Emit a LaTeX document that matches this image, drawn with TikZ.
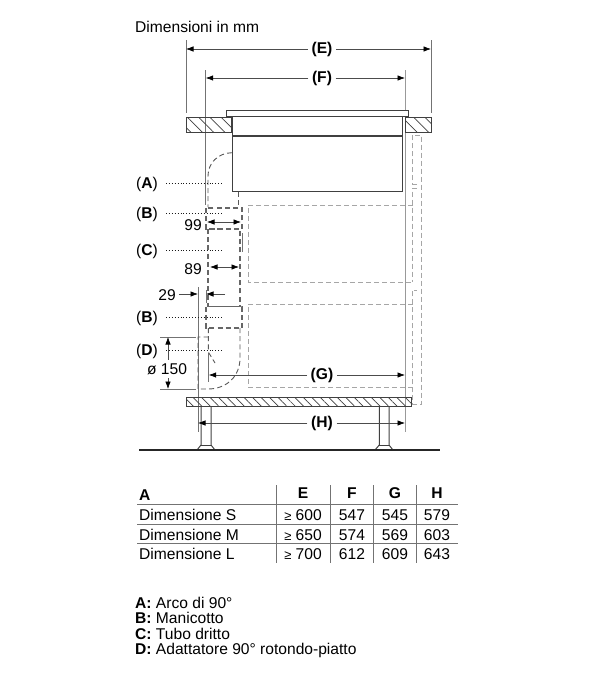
\documentclass[tikz,border=0pt]{standalone}
\usepackage{fontspec}
\setmainfont{Liberation Sans}
\usetikzlibrary{arrows.meta,patterns.meta}
\newcommand*{\normtxt}{\fontsize{15.6}{18}\selectfont}
\newcommand*{\hatchbox}[2]{\draw[body,pattern color=black!75,pattern={Lines[angle=-45,distance=#2,line width=.7pt]}] #1;}
\tikzset{
	lbl/.style={inner sep=0pt,font=\normtxt},
	dimlbl/.style={inner sep=3.5pt,font=\normtxt},
	dimline/.style={draw=black!70,line width=.7pt,-{Latex[length=7.5pt,width=5.5pt,black]}},
	dblline/.style={draw=black!70,line width=.7pt,{Latex[length=7.5pt,width=5.5pt,black]}-{Latex[length=7.5pt,width=5.5pt,black]}},
	dimext/.style={draw=black!55,line width=.7pt},
	leader/.style={draw=black!90,line width=1pt,dash pattern=on 1pt off 1.9pt},
	body/.style={draw=black!75,line width=1pt},
	duct/.style={draw=black!60,line width=1.3pt,dash pattern=on 5pt off 3.2pt},
	elbow/.style={draw=black!65,line width=.9pt,dash pattern=on 5pt off 3.2pt},
	cabinet/.style={draw=black!35,line width=.9pt,dash pattern=on 5pt off 3pt},
	tabrule/.style={draw=black!55,line width=.9pt},
}
\begin{document}
\begin{tikzpicture}[x=1pt,y=-1pt]
	\useasboundingbox (0,0) rectangle (600,688);
	\node[lbl,anchor=west] (title) at (135,27) {Dimensioni in mm};
	% cabinets behind the hob
	\draw[cabinet] (413,205) -- (248.3,205) -- (248.3,282.3) -- (413,282.3);
	\draw[cabinet] (413,304) -- (248.3,304) -- (248.3,387.7) -- (413,387.7);
	\draw[cabinet] (417,184) -- (412.7,184) -- (412.7,135) -- (421.7,135) -- (421.7,404) -- (412.7,404) -- (412.7,290) -- (417,290);
	\draw[cabinet] (417,188) -- (412.7,188) -- (412.7,282.3);
	% extension lines
	\draw[dimext] (186,40) -- (186,113);
	\draw[dimext] (431,40) -- (431,113);
	\draw[dimext] (205.7,70) -- (205.7,205);
	\draw[draw=black!40,line width=1pt] (405,70) -- (405,432);
	\draw[dimext] (198,287) -- (198,432);
	\draw[dimext] (206,290) -- (206,303);
	\draw[dimext] (208.7,353) -- (208.7,382);
	\draw[dimext] (242,233) -- (242,252);
	\draw[dimext] (160,337) -- (196,337);
	\draw[dimext] (160,389) -- (196,389);
	% hob and worktop
	\hatchbox{(186,117) rectangle (231,132)}{8pt}
	\hatchbox{(405,117) rectangle (431,132)}{8pt}
	\draw[body,fill=white] (226,110) rectangle (408.7,116);
	\draw[body] (232.3,116) rectangle (402.7,191.7);
	\draw[body,line width=1.6pt] (232.3,135.7) -- (402.7,135.7);
	% ducting
	\draw[elbow] (232,152.7) .. controls (218,153) and (208,163) .. (208,176) -- (208,207);
	\draw[elbow] (238,192) -- (238,207);
	\draw[duct] (206,208) rectangle (242,229);
	\draw[duct] (208,229) rectangle (240,306.7);
	\draw[duct] (206,306.7) rectangle (242,328);
	\draw[elbow] (240,328) -- (240,358) .. controls (240,377) and (226,389) .. (208,389) -- (198,389) -- (198,337) -- (208,337);
	\draw[elbow] (208.3,328) -- (208.3,352) -- (215,363);
	% base and legs
	\hatchbox{(186.7,397.7) rectangle (411.7,406.7)}{6pt}
	\draw[body] (201,407) -- (201,445) -- (197,450);
	\draw[body] (211,407) -- (211,445) -- (215,450);
	\draw[body] (201,445) -- (211,445);
	\draw[body] (379.3,407) -- (379.3,445) -- (375,450);
	\draw[body] (389,407) -- (389,445) -- (393,450);
	\draw[body] (379.3,445) -- (389,445);
	\draw[draw=black!85,line width=1.1pt] (139,450) -- (440,450);
	% main dimensions
	\foreach \nam/\xa/\xb/\ya in {E/186/431/49,F/205.7/405/78,G/208.7/405/375,H/198/405/423}{
		\node[dimlbl] (dim\nam) at (322,\ya) {\textbf{(\nam)}};
		\coordinate (dim\nam l) at (\xa,\ya);
		\coordinate (dim\nam r) at (\xb,\ya);
		\draw[dimline] (dim\nam) -- (dim\nam l);
		\draw[dimline] (dim\nam) -- (dim\nam r);
	}
	% part labels
	\foreach \nam/\txt/\ya in {pa/A/183,pb/B/213,pc/C/250,pe/B/317,pd/D/350}{
		\node[lbl] (\nam) at (147,\ya+1.5) {(\textbf{\txt})};
		\coordinate (\nam from) at (166,\ya);
		\coordinate (\nam end) at (223,\ya);
		\draw[leader] (\nam from) -- (\nam end);
	}
	% small dimensions
	\node[lbl] (nn) at (193,225) {99};
	\node[lbl] (ee) at (193,269) {89};
	\node[lbl] (tn) at (167,295) {29};
	\node[dimlbl,font=\normtxt] (dia) at (167,369) {ø 150};
	\coordinate (nnl) at (207,222);
	\coordinate (nnr) at (241,222);
	\coordinate (eel) at (210,267);
	\coordinate (eer) at (239,267);
	\draw[dblline] (nnl) -- (nnr);
	\draw[dblline] (eel) -- (eer);
	\coordinate (tnl) at (198,294);
	\coordinate (tnr) at (206,294);
	\coordinate (tnf) at (225,294);
	\draw[dimline] (tn.east |- tnl) ++(3,0) -- (tnl);
	\draw[dimline] (tnf) -- (tnr);
	\coordinate (diat) at (168,337);
	\coordinate (diab) at (168,389);
	\draw[dimline] (dia.north -| diat) -- (diat);
	\draw[dimline] (dia.south -| diab) -- (diab);
	% table
	\draw[tabrule] (137,504) -- (458,504);
	\draw[tabrule] (137,524) -- (458,524);
	\draw[tabrule] (137,543) -- (458,543);
	\foreach \xa in {276,330.7,373,416}{
		\draw[tabrule] (\xa,485) -- (\xa,562.7);
	}
	\node[lbl,anchor=west] (heada) at (139,495) {\textbf{A}};
	\foreach \nam/\xa in {E/303,F/352,G/395,H/437}{
		\node[lbl] (head\nam) at (\xa,493) {\textbf{\nam}};
	}
	\foreach \nam/\sz/\ya/\ve/\vf/\vg/\vh in {s/S/515/600/547/545/579,m/M/535/650/574/569/603,l/L/554/700/612/609/643}{
		\node[lbl,anchor=west] (row\nam) at (139,\ya) {Dimensione \sz};
		\node[lbl] (cell\nam e) at (303,\ya) {{\fontsize{13}{15}\selectfont≥} \ve};
		\node[lbl] (cell\nam f) at (352,\ya) {\vf};
		\node[lbl] (cell\nam g) at (395,\ya) {\vg};
		\node[lbl] (cell\nam h) at (437,\ya) {\vh};
	}
	% legend
	\foreach \nam/\txt/\ya in {a/Arco di 90°/603,b/Manicotto/618.5,c/Tubo dritto/634,d/Adattatore 90° rotondo-piatto/649}{
		\node[lbl,anchor=base west] (leg\nam) at (135,\ya+5) {\textbf{\MakeUppercase{\nam}:} \txt};
	}
\end{tikzpicture}
\end{document}
